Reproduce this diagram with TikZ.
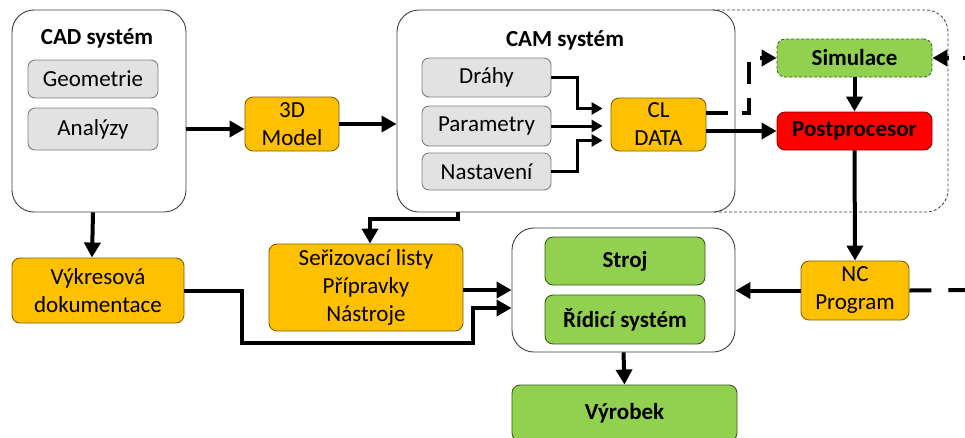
\documentclass[tikz,border=0pt]{standalone}
\usepackage{fontspec}
\setmainfont{Carlito}
\usetikzlibrary{arrows.meta,calc}
\definecolor{orangeF}{HTML}{FFC000}
\definecolor{orangeD}{HTML}{7F6000}
\definecolor{greyF}{HTML}{E2E2E2}
\definecolor{greyD}{HTML}{808080}
\definecolor{greenF}{HTML}{92D050}
\definecolor{greenD}{HTML}{3A5A1E}
\definecolor{redF}{HTML}{FF0000}
\definecolor{redD}{HTML}{8B0000}
\definecolor{frameD}{HTML}{404040}
\begin{document}
\begin{tikzpicture}[x=1pt,y=-1pt,
  every node/.style={font=\fontsize{23}{28}\selectfont, align=center, inner sep=0pt},
  bigbox/.style={draw=frameD, line width=0.9pt, fill=white, rounded corners=22pt},
  greybox/.style={draw=greyD, line width=0.9pt, fill=greyF, rounded corners=7pt},
  orangebox/.style={draw=orangeD, line width=0.9pt, fill=orangeF, rounded corners=8pt},
  greenbox/.style={draw=greenD, line width=0.9pt, fill=greenF, rounded corners=8pt},
  redbox/.style={draw=redD, line width=0.9pt, fill=redF, rounded corners=8pt},
  arr/.style={line width=4pt, -{Triangle[length=15pt,width=16pt]}},
  thinarr/.style={line width=3pt, -{Triangle[length=11pt,width=12pt]}, shorten >=8pt},
  darr/.style={line width=4pt, dash pattern=on 22pt off 14pt, -{Triangle[length=15pt,width=16pt]}},
  dline/.style={line width=4pt, dash pattern=on 22pt off 17pt},
  boldtext/.style={font=\fontsize{23}{28}\selectfont\bfseries},
]
\clip (0,0) rectangle (965,437);
\fill[white] (0,0) rectangle (965,437);

% dashed outer frame (CAM + simulation area)
\draw[frameD, line width=0.8pt, dash pattern=on 3pt off 2pt, rounded corners=22pt]
  (712,10) -- (948,10) -- (948,212) -- (712,212);

% CAD system
\node[bigbox, minimum width=174pt, minimum height=202pt] (cad) at (99,111) {};
\node[boldtext] (cadt) at (97,38) {CAD systém};
\node[greybox, minimum width=130pt, minimum height=38pt] (geo) at (93,79) {Geometrie};
\node[greybox, minimum width=130pt, minimum height=42pt] (ana) at (93,129) {Analýzy};

% 3D model
\node[orangebox, minimum width=94pt, minimum height=54pt] (m3d) at (292,124) {3D\\Model};

% CAM system
\node[bigbox, minimum width=338pt, minimum height=202pt] (cam) at (566,111) {};
\node[boldtext] (camt) at (565,40) {CAM systém};
\node[greybox, minimum width=129pt, minimum height=39pt] (drahy) at (486.5,77.5) {Dráhy};
\node[greybox, minimum width=129pt, minimum height=40pt] (param) at (486.5,126) {Parametry};
\node[greybox, minimum width=129pt, minimum height=37pt] (nast) at (486.5,171.5) {Nastavení};
\node[orangebox, minimum width=95pt, minimum height=53pt] (cl) at (658.5,124.5) {CL\\DATA};

% simulation / postprocessor
\node[fill=greenF, draw=greenD, line width=0.8pt, dash pattern=on 3pt off 2pt, rounded corners=8pt,
      minimum width=155pt, minimum height=38pt, boldtext] (sim) at (854.5,58) {Simulace};
\node[redbox, minimum width=155pt, minimum height=38pt] (post) at (854.5,131) {};
\node[boldtext] (postt) at (post.center) {Postprocesor};

% NC program
\node[orangebox, minimum width=108pt, minimum height=59pt] (nc) at (855,290.5) {NC\\Program};

% machine group
\node[bigbox, minimum width=223pt, minimum height=124pt] (grp) at (623.5,290) {};
\node[greenbox, minimum width=160pt, minimum height=48pt, boldtext] (stroj) at (625,261) {Stroj};
\node[greenbox, minimum width=160pt, minimum height=49pt, boldtext] (ridici) at (625,319.5) {Řídicí systém};
\node[greenbox, minimum width=225pt, minimum height=56pt, boldtext] (vyr) at (624.5,413) {Výrobek};

% documentation
\node[orangebox, minimum width=172pt, minimum height=65pt] (vyk) at (98,290.5) {Výkresová\\dokumentace};
\node[orangebox, minimum width=194pt, minimum height=87pt] (ser) at (366,287.5) {Seřizovací listy\\Přípravky\\Nástroje};

% free ends
\coordinate (rin) at (985,58);
\coordinate (rout) at (985,290);

% connectors
\draw[arr] (cad.east |- ana.center) -- (m3d.west |- ana.center);
\draw[arr] (m3d.east) -- (cam.west |- m3d.east);

\draw[thinarr] (drahy.east) -- ++(26,0) |- ($(cl.west)+(0,-16)$);
\draw[thinarr] (param.east) -- (cl.west |- param.east);
\draw[thinarr] (nast.east) -- ++(26,0) |- ($(cl.west)+(0,16)$);

\draw[darr] ($(cl.east)+(0,-12)$) -- ++(43,0) |- (sim.west);
\draw[arr] (cl.east |- post.west) -- (post.west);
\draw[arr] (sim.south) -- (post.north);
\draw[darr] (rin) -- (sim.east);
\draw[arr] (post.south) -- (nc.north);
\draw[dline] (nc.east) -- (rout);
\draw[arr] (nc.west) -- (grp.east |- nc.west);
\draw[arr] (grp.south) -- (vyr.north);

\draw[arr] ([xshift=-6pt]cad.south) -- ([xshift=-6pt]vyk.north);
\draw[arr] ([xshift=-108pt]cam.south) -- ++(0,7) -| ([xshift=4pt]ser.north);
\draw[arr] (ser.east |- grp.west) -- (grp.west);
\draw[arr] (vyk.east) -- ++(58,0) |- ++(231,52) |- ($(grp.west)+(0,18)$);
\end{tikzpicture}
\end{document}
